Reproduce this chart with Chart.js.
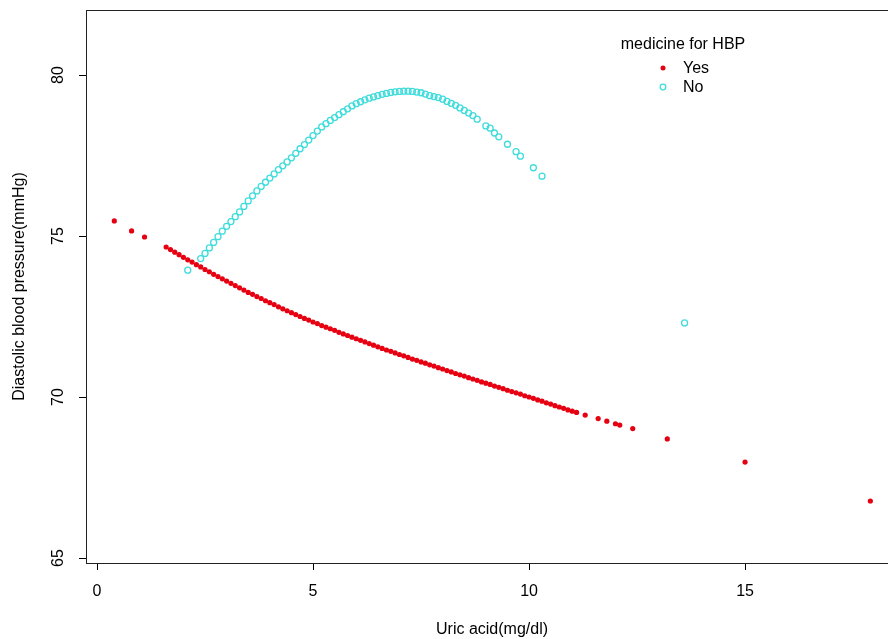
<!DOCTYPE html>
<html>
<head>
<meta charset="utf-8">
<script src="https://cdn.jsdelivr.net/npm/chart.js@4/dist/chart.umd.min.js"></script>
<style>
  html, body { margin: 0; padding: 0; background: #fff; overflow: hidden; }
  #wrap { width: 888px; height: 639px; overflow: hidden; }
</style>
</head>
<body>
<div id="wrap"><canvas id="c" width="960" height="639"></canvas></div>
<script>
// ---- data ----
const xTitle = 'Uric acid(mg/dl)';
const yTitle = 'Diastolic blood pressure(mmHg)';
const legendTitle = 'medicine for HBP';
const seriesNames = ['Yes', 'No'];
const xTicks = [0, 5, 10, 15];
const yTicks = [65, 70, 75, 80];

const yesX = [0.4, 0.8, 1.1,
  1.6, 1.7, 1.8, 1.9, 2.0, 2.1, 2.2, 2.3, 2.4, 2.5, 2.6, 2.7, 2.8, 2.9,
  3.0, 3.1, 3.2, 3.3, 3.4, 3.5, 3.6, 3.7, 3.8, 3.9,
  4.0, 4.1, 4.2, 4.3, 4.4, 4.5, 4.6, 4.7, 4.8, 4.9,
  5.0, 5.1, 5.2, 5.3, 5.4, 5.5, 5.6, 5.7, 5.8, 5.9,
  6.0, 6.1, 6.2, 6.3, 6.4, 6.5, 6.6, 6.7, 6.8, 6.9,
  7.0, 7.1, 7.2, 7.3, 7.4, 7.5, 7.6, 7.7, 7.8, 7.9,
  8.0, 8.1, 8.2, 8.3, 8.4, 8.5, 8.6, 8.7, 8.8, 8.9,
  9.0, 9.1, 9.2, 9.3, 9.4, 9.5, 9.6, 9.7, 9.8, 9.9,
  10.0, 10.1, 10.2, 10.3, 10.4, 10.5, 10.6, 10.7, 10.8, 10.9,
  11.0, 11.1, 11.3, 11.6, 11.8, 12.0, 12.1, 12.4, 13.2, 15.0, 17.9];
const yesY = [75.47, 75.16, 74.97,
  74.66, 74.58, 74.50, 74.42, 74.34, 74.26, 74.19, 74.11, 74.04, 73.96, 73.89, 73.81, 73.74, 73.67,
  73.60, 73.53, 73.46, 73.39, 73.32, 73.25, 73.19, 73.12, 73.06, 72.99,
  72.93, 72.87, 72.80, 72.74, 72.68, 72.62, 72.56, 72.50, 72.44, 72.39,
  72.33, 72.28, 72.22, 72.17, 72.12, 72.07, 72.01, 71.96, 71.91, 71.86,
  71.81, 71.76, 71.71, 71.66, 71.61, 71.56, 71.51, 71.46, 71.42, 71.37,
  71.32, 71.28, 71.23, 71.18, 71.14, 71.09, 71.05, 71.00, 70.96, 70.91,
  70.87, 70.82, 70.78, 70.73, 70.69, 70.65, 70.60, 70.56, 70.52, 70.47,
  70.43, 70.39, 70.34, 70.30, 70.26, 70.21, 70.17, 70.13, 70.09, 70.04,
  70.00, 69.96, 69.91, 69.87, 69.82, 69.78, 69.73, 69.69, 69.65, 69.60,
  69.56, 69.52, 69.44, 69.33, 69.25, 69.17, 69.13, 69.02, 68.70, 67.98, 66.77];

const noX = [2.1,
  2.4, 2.5, 2.6, 2.7, 2.8, 2.9,
  3.0, 3.1, 3.2, 3.3, 3.4, 3.5, 3.6, 3.7, 3.8, 3.9,
  4.0, 4.1, 4.2, 4.3, 4.4, 4.5, 4.6, 4.7, 4.8, 4.9,
  5.0, 5.1, 5.2, 5.3, 5.4, 5.5, 5.6, 5.7, 5.8, 5.9,
  6.0, 6.1, 6.2, 6.3, 6.4, 6.5, 6.6, 6.7, 6.8, 6.9,
  7.0, 7.1, 7.2, 7.3, 7.4, 7.5, 7.6, 7.7, 7.8, 7.9,
  8.0, 8.1, 8.2, 8.3, 8.4, 8.5, 8.6, 8.7, 8.8,
  9.0, 9.1, 9.2, 9.3, 9.5, 9.7, 9.8, 10.1, 10.3, 13.6];
const noY = [73.94,
  74.30, 74.46, 74.63, 74.80, 74.98, 75.15,
  75.30, 75.45, 75.60, 75.75, 75.92, 76.09, 76.25, 76.40, 76.54, 76.67,
  76.80, 76.93, 77.06, 77.18, 77.30, 77.43, 77.57, 77.71, 77.84, 77.98,
  78.12, 78.26, 78.39, 78.49, 78.59, 78.68, 78.77, 78.86, 78.95, 79.04,
  79.11, 79.17, 79.23, 79.28, 79.32, 79.36, 79.40, 79.43, 79.46, 79.48,
  79.49, 79.50, 79.50, 79.49, 79.47, 79.45, 79.41, 79.36, 79.33, 79.30,
  79.25, 79.18, 79.12, 79.06, 78.98, 78.90, 78.82, 78.74, 78.63,
  78.42, 78.35, 78.20, 78.08, 77.85, 77.62, 77.48, 77.12, 76.86, 72.30];

// ---- styles ----
const RED = '#E60012';
const CYAN = '#40DCDC';
const FONT = "'Liberation Sans', Arial, sans-serif";

const toPts = (xs, ys) => xs.map((x, i) => ({ x: x, y: ys[i] }));

const boxPlugin = {
  id: 'rbox',
  beforeDatasetsDraw(chart) {
    const { ctx, chartArea: a } = chart;
    ctx.save();
    ctx.strokeStyle = '#222';
    ctx.lineWidth = 1;
    ctx.strokeRect(a.left + 0.5, a.top + 0.5, a.right - a.left, a.bottom - a.top);
    ctx.restore();
  }
};

const legendPlugin = {
  id: 'rlegend',
  afterDraw(chart) {
    const ctx = chart.ctx;
    ctx.save();
    ctx.font = '16px ' + FONT;
    ctx.fillStyle = '#000';
    ctx.textBaseline = 'middle';
    ctx.textAlign = 'center';
    ctx.fillText(legendTitle, 683, 45);
    ctx.textAlign = 'left';
    const rows = [68, 87];
    chart.data.datasets.forEach((ds, i) => {
      const y = rows[i];
      ctx.beginPath();
      ctx.arc(663, y, i === 0 ? 2.5 : 2.8, 0, Math.PI * 2);
      if (i === 0) { ctx.fillStyle = ds.backgroundColor; ctx.fill(); }
      else { ctx.strokeStyle = ds.borderColor; ctx.lineWidth = 1.3; ctx.stroke(); }
      ctx.fillStyle = '#000';
      ctx.fillText(ds.label, 683, y + 1);
    });
    ctx.restore();
  }
};

new Chart(document.getElementById('c'), {
  type: 'scatter',
  data: {
    datasets: [
      {
        label: seriesNames[0],
        data: toPts(yesX, yesY),
        pointStyle: 'circle',
        pointRadius: 2.6,
        backgroundColor: RED,
        borderColor: RED,
        borderWidth: 0
      },
      {
        label: seriesNames[1],
        data: toPts(noX, noY),
        pointStyle: 'circle',
        pointRadius: 3,
        backgroundColor: 'rgba(0,0,0,0)',
        borderColor: CYAN,
        borderWidth: 1.3
      }
    ]
  },
  options: {
    responsive: false,
    animation: false,
    devicePixelRatio: 1,
    layout: { padding: { top: 10, right: 62, bottom: 0, left: 0 } },
    plugins: { legend: { display: false }, tooltip: { enabled: false } },
    scales: {
      x: {
        type: 'linear',
        min: -0.255,
        max: 18.54,
        afterBuildTicks(s) { s.ticks = xTicks.map(v => ({ value: v })); },
        afterFit(s) { s.height = 76; s.paddingLeft = 0; s.paddingRight = 0; },
        border: { display: false },
        grid: { drawOnChartArea: false, drawTicks: true, tickLength: 7, tickColor: '#000', color: '#000' },
        ticks: { color: '#000', padding: 12, font: { family: FONT, size: 16 }, maxRotation: 0, autoSkip: false },
        title: { display: true, text: xTitle, color: '#000', font: { family: FONT, size: 16 }, padding: { top: 0, bottom: 0 } }
      },
      y: {
        type: 'linear',
        min: 64.845,
        max: 82.02,
        afterBuildTicks(s) { s.ticks = yTicks.map(v => ({ value: v })); },
        afterFit(s) { s.width = 86; s.paddingTop = 0; s.paddingBottom = 0; },
        border: { display: false },
        grid: { drawOnChartArea: false, drawTicks: true, tickLength: 7, tickColor: '#000', color: '#000' },
        ticks: { color: '#000', padding: 12, crossAlign: 'center', minRotation: 90, maxRotation: 90, font: { family: FONT, size: 16 }, autoSkip: false },
        title: { display: true, text: yTitle, color: '#000', font: { family: FONT, size: 16 }, padding: { top: 10, bottom: 0 } }
      }
    }
  },
  plugins: [boxPlugin, legendPlugin]
});
</script>
</body>
</html>
